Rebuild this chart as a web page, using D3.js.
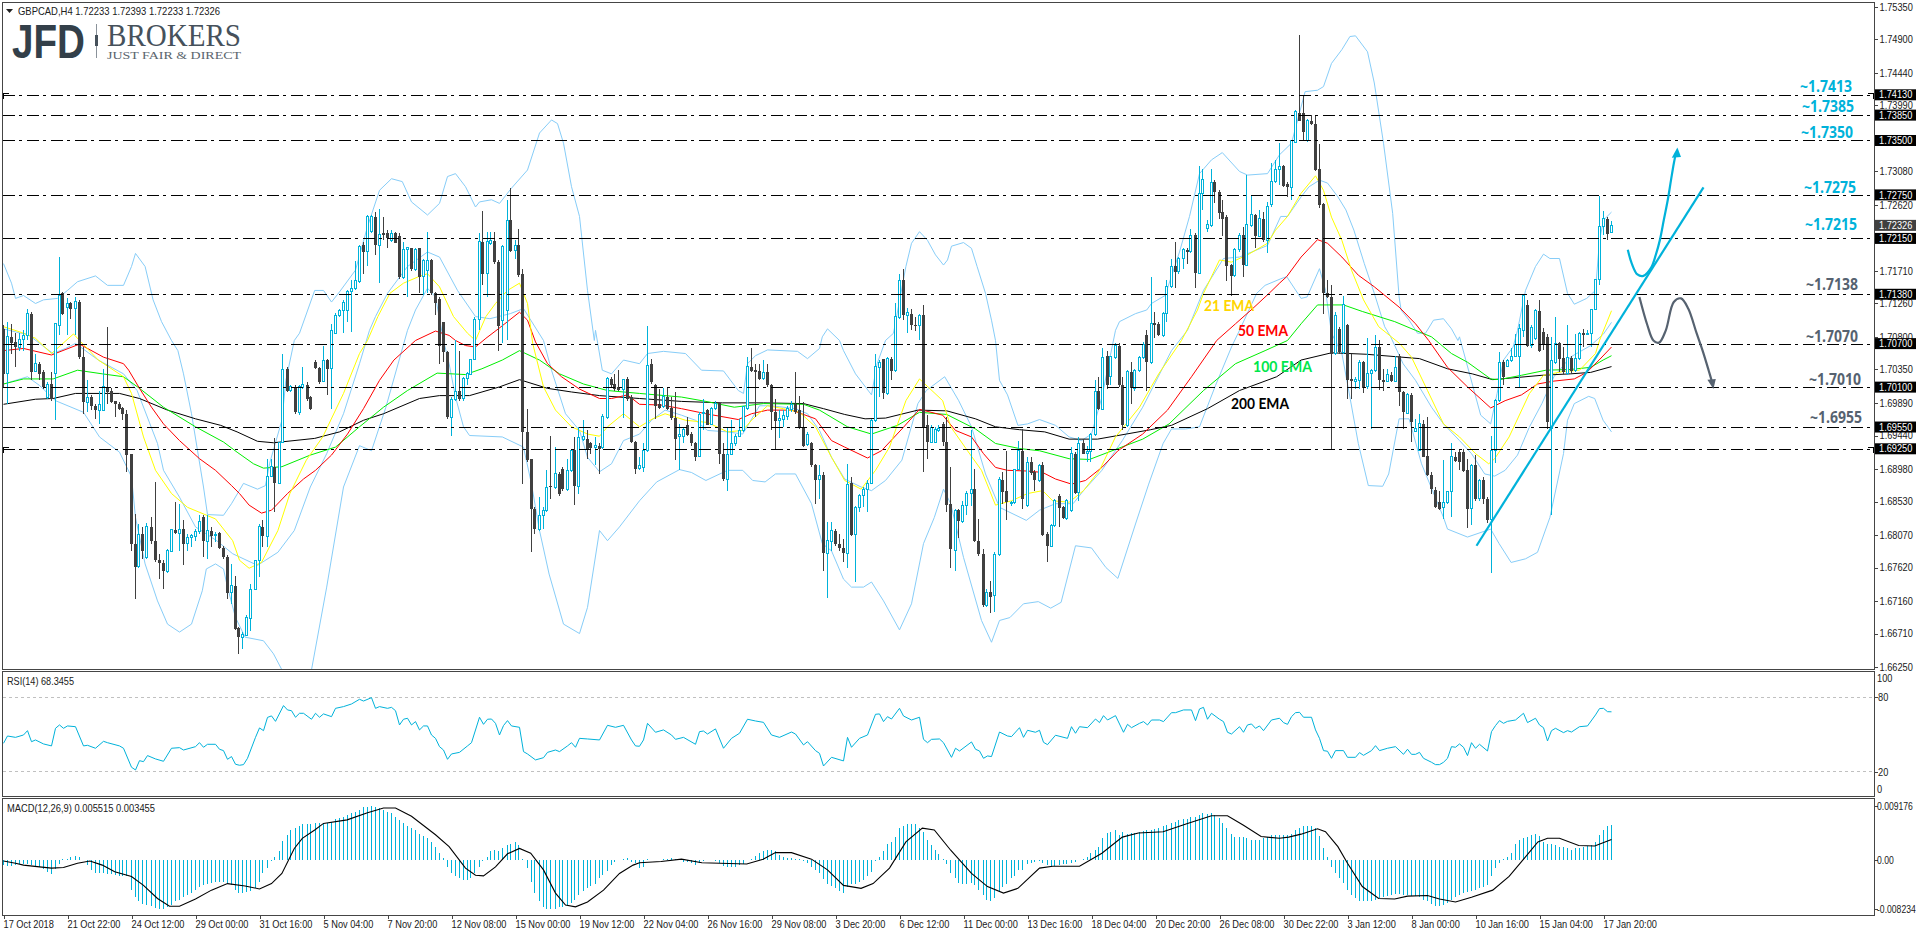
<!DOCTYPE html>
<html>
<head>
<meta charset="utf-8">
<script src="https://cdnjs.cloudflare.com/ajax/libs/d3/7.8.5/d3.min.js"></script>
<style>
html, body { margin: 0; padding: 0; background: #fff; overflow: hidden; }
svg { display: block; }
text { font-family: "Liberation Sans", sans-serif; }
</style>
</head>
<body>
<div id="chart"></div>
<script>
// prices are in 1/10000 units (17413 = 1.7413), one entry per H4 bar
const opens = [17091,17029,17080,17073,17066,17077,17082,17112,17032,17043,
17031,16997,17015,17029,17096,17140,17121,17126,17119,17128,
17052,16990,16997,16985,16979,16979,17011,17006,16991,16988,
16982,16974,16918,16795,16763,16808,16776,16818,16799,16773,
16768,16757,16784,16814,16809,16815,16795,16803,16805,16811,
16832,16798,16813,16806,16809,16789,16777,16727,16737,16678,
16666,16668,16692,16732,16772,16818,16805,16887,16901,16878,
16934,17035,17006,17011,16976,17010,17014,16997,17045,17037,
17019,17048,17036,17085,17110,17117,17117,17142,17147,17156,
17206,17197,17225,17245,17206,17223,17223,17213,17223,17219,
17162,17201,17202,17173,17202,17163,17172,17186,17140,17132,
17100,17059,16969,16993,17005,16995,17022,17028,17049,17104,
17211,17167,17209,17212,17183,17103,17116,17241,17199,17206,
17166,16949,16911,16843,16814,16834,16841,16874,16873,16891,
16898,16870,16896,16924,16874,16939,16939,16933,16927,16930,
16928,16969,17022,17015,17011,17007,17022,16997,16935,16898,
16900,16923,17043,17013,16988,16984,16997,16982,16968,16943,
16943,16958,16946,16933,16915,16974,16979,16959,16981,16989,
16919,16884,16918,16933,16943,16951,16981,17039,17034,17033,
17022,17031,17014,16976,16964,16966,16970,16980,16987,16979,
16956,16932,16934,16903,16883,16889,16782,16798,16813,16795,
16789,16781,16878,16807,16845,16861,16869,16878,16965,17038,
17049,17002,17050,17033,17106,17158,17110,17112,17096,17095,
17110,16959,16935,16935,16951,16960,16935,16849,16785,16841,
16826,16847,16864,16870,16798,16780,16710,16728,16723,16780,
16883,16867,16851,16852,16897,16923,16848,16908,16893,16882,
16903,16808,16791,16820,16861,16845,16830,16840,16919,16865,
16933,16919,16922,16945,17005,16980,17053,17025,17052,17068,
17013,16958,17032,17009,17033,17051,17082,17045,17099,17098,
17082,17112,17149,17177,17170,17188,17200,17197,17220,17168,
17278,17229,17233,17293,17279,17252,17245,17179,17164,17200,
17220,17179,17234,17248,17219,17243,17213,17262,17294,17311,
17316,17291,17286,17348,17388,17388,17350,17378,17373,17311,
17263,17141,17135,17057,17091,17059,17096,17022,17019,17020,
17045,17011,17029,17033,17066,17021,17019,17028,17019,17054,
17004,16975,17000,16950,16923,16960,16916,16890,16869,16852,
16845,16852,16867,16915,16921,16921,16896,16843,16903,16857,
16883,16857,16828,16924,16992,17045,17039,17047,17053,17053,
17089,17124,17068,17078,17116,17086,17080,16953,17045,17071,
17051,17029,17051,17034,17050,17085,17083,17084,17118,17159,
17232,17243,17224];
const closes = [17029,17080,17071,17066,17077,17082,17112,17032,17043,17029,
17011,17015,16995,17098,17137,17112,17126,17119,17129,17052,
16990,16997,16985,16979,16987,17011,17004,16990,16987,16981,
16974,16917,16795,16763,16807,16785,16818,16798,16772,16768,
16757,16785,16814,16809,16815,16795,16803,16806,16811,16826,
16798,16813,16806,16808,16789,16776,16727,16737,16677,16666,
16670,16693,16732,16772,16818,16805,16887,16901,16878,16934,
17035,17006,17011,16976,17011,17014,16995,16981,17037,17018,
17048,17036,17089,17110,17117,17128,17142,17147,17158,17204,
17197,17246,17246,17206,17221,17221,17216,17223,17210,17162,
17201,17203,17173,17201,17163,17185,17185,17140,17126,17068,
17059,16969,16993,17005,16995,17022,17029,17049,17104,17211,
17167,17211,17213,17183,17095,17204,17241,17199,17206,17165,
16949,16910,16843,16815,16834,16841,16873,16873,16891,16864,
16870,16896,16924,16874,16941,16942,16926,16927,16930,16926,
16970,17022,17013,17008,17007,17021,16995,16935,16898,16903,
16923,17041,17018,16984,16982,16998,16981,16968,16939,16945,
16952,16945,16933,16915,16973,16976,16959,16981,16988,16919,
16884,16918,16933,16943,16951,16984,17039,17033,17031,17022,
17031,17013,16976,16964,16967,16972,16981,16987,16977,16955,
16930,16945,16903,16883,16889,16782,16799,16813,16795,16789,
16782,16877,16807,16845,16861,16870,16878,16965,17039,17045,
17002,17050,17033,17108,17157,17110,17114,17096,17095,17110,
16956,16935,16955,16952,16953,16935,16848,16787,16841,16826,
16847,16864,16870,16798,16780,16710,16728,16722,16780,16884,
16866,16852,16852,16897,16923,16857,16907,16892,16882,16903,
16807,16791,16820,16854,16844,16830,16854,16919,16865,16933,
16919,16922,16945,17005,16980,17051,17013,17053,17068,17013,
16958,17032,17010,17034,17051,17070,17045,17098,17096,17082,
17112,17149,17177,17170,17188,17200,17197,17220,17168,17278,
17297,17235,17293,17279,17251,17243,17178,17164,17200,17220,
17179,17235,17248,17219,17243,17213,17260,17294,17311,17315,
17288,17286,17350,17391,17378,17363,17378,17373,17310,17262,
17140,17135,17057,17110,17059,17124,17020,17019,17021,17045,
17010,17029,17034,17066,17020,17018,17028,17019,17038,17004,
16976,17000,16963,16953,16960,16915,16889,16870,16845,16843,
16852,16867,16915,16909,16907,16895,16843,16903,16857,16882,
16856,16828,16924,16992,17045,17025,17048,17053,17070,17091,
17137,17068,17093,17116,17061,17070,16962,17047,17071,17050,
17031,17051,17033,17050,17084,17083,17084,17118,17159,17232,
17243,17222,17233];
const highs = [17096,17101,17098,17085,17085,17090,17119,17114,17057,17045,
17034,17018,17031,17098,17190,17142,17133,17128,17135,17131,
17066,17020,17000,16988,17006,17036,17094,17009,16992,16990,
16983,16979,16919,16836,16822,16818,16824,16831,16880,16781,
16772,16788,16815,16852,16850,16827,16808,16808,16815,16834,
16834,16834,16818,16811,16811,16792,16779,16767,16751,16680,
16673,16696,16739,16772,16822,16827,16912,16912,16940,16935,
17057,17038,17013,17013,17013,17038,17018,16998,17048,17038,
17068,17050,17098,17113,17119,17131,17144,17158,17184,17207,
17211,17248,17248,17252,17256,17245,17227,17227,17225,17223,
17211,17204,17203,17202,17203,17188,17224,17188,17142,17135,
17098,17061,16997,17075,17061,17025,17031,17050,17108,17223,
17254,17225,17225,17225,17186,17207,17269,17285,17213,17228,
17174,16980,16912,16845,16859,16845,16896,16944,16928,16893,
16900,16912,16926,16942,16956,16966,16951,16935,16942,16933,
16974,17025,17025,17029,17034,17022,17025,17000,16937,16914,
16933,17095,17050,17015,17008,17010,17010,16997,17004,16960,
16956,16969,16949,16935,16976,16995,16981,16983,16992,16990,
16933,16956,16965,16946,16967,16985,17052,17064,17043,17043,
17048,17043,17015,16995,16979,16979,16985,16992,17031,16999,
16990,16949,16935,16905,16903,16893,16825,16825,16815,16808,
16801,16905,16887,16847,16864,16873,16882,16967,17057,17048,
17050,17052,17052,17126,17167,17174,17120,17119,17108,17112,
17124,16972,16958,16956,16958,16962,16969,16901,16843,16843,
16854,16868,16951,16898,16829,16788,16732,16744,16783,16887,
16893,16923,16854,16898,16937,16953,16915,16915,16896,16905,
16907,16811,16822,16857,16864,16847,16857,16928,16921,16942,
16939,16930,16947,17021,17025,17064,17061,17054,17071,17071,
17025,17034,17045,17036,17054,17073,17089,17163,17114,17101,
17114,17158,17188,17211,17190,17202,17203,17228,17223,17315,
17312,17241,17312,17296,17282,17269,17248,17181,17202,17223,
17232,17303,17275,17250,17255,17252,17266,17319,17324,17347,
17317,17293,17351,17393,17496,17413,17381,17386,17386,17346,
17264,17159,17151,17114,17094,17137,17098,17057,17025,17048,
17047,17078,17036,17082,17075,17036,17036,17031,17054,17057,
17006,17002,17002,16967,16974,16965,16970,16893,16873,16868,
16910,16868,16933,16921,16926,16926,16912,16905,16917,16884,
16887,16859,16943,16995,17059,17048,17050,17064,17084,17098,
17137,17131,17096,17119,17131,17092,17084,17080,17108,17073,
17066,17096,17054,17084,17086,17091,17089,17119,17160,17274,
17254,17245,17240];
const lows = [17011,16988,17057,17038,17061,17061,17075,17020,17032,17020,
17008,16995,16992,16965,17082,17110,17082,17105,17082,17050,
16974,16976,16979,16967,16960,16979,16988,16989,16969,16979,
16965,16893,16785,16719,16762,16774,16774,16795,16769,16746,
16732,16755,16783,16808,16785,16765,16785,16790,16799,16808,
16776,16774,16790,16797,16788,16774,16719,16712,16676,16643,
16650,16668,16675,16731,16749,16790,16790,16887,16838,16877,
16933,17004,17004,16974,16972,17008,16992,16979,17036,17015,
17018,17000,16981,17085,17108,17085,17101,17087,17144,17154,
17167,17177,17223,17193,17154,17213,17202,17211,17209,17160,
17160,17135,17171,17171,17140,17138,17140,17138,17110,17043,
17045,16967,16944,16992,16992,16992,17013,17027,17048,17089,
17151,17135,17206,17181,17061,17071,17075,17197,17188,17163,
16877,16907,16783,16808,16813,16815,16838,16857,16870,16861,
16868,16868,16893,16848,16864,16937,16912,16919,16903,16891,
16926,16967,17011,17006,17006,16968,16992,16933,16891,16896,
16893,16921,17015,16967,16981,16982,16979,16966,16910,16897,
16933,16944,16930,16909,16914,16951,16958,16958,16979,16905,
16881,16867,16917,16930,16942,16949,16979,17031,16969,17020,
17020,17011,16951,16926,16941,16956,16965,16976,16974,16953,
16928,16930,16900,16850,16857,16757,16720,16785,16792,16785,
16769,16761,16806,16742,16838,16845,16838,16877,16963,16997,
16995,17000,17020,17031,17105,17103,17085,17089,17088,17075,
16893,16912,16933,16933,16949,16930,16838,16762,16757,16803,
16824,16834,16847,16797,16778,16707,16707,16699,16700,16778,
16850,16827,16847,16850,16896,16843,16845,16889,16868,16880,
16806,16769,16790,16818,16818,16829,16827,16838,16864,16854,
16918,16907,16907,16944,16979,16979,17008,17013,17050,17011,
16951,16956,16988,17006,17031,17050,17006,17043,17079,17081,
17080,17101,17147,17147,17167,17174,17181,17195,17147,17167,
17255,17225,17232,17264,17243,17219,17157,17137,17162,17197,
17162,17177,17232,17202,17217,17211,17195,17259,17292,17289,
17286,17273,17269,17347,17377,17352,17349,17372,17309,17258,
17112,17133,16924,17055,17057,17057,16995,16995,17008,17008,
17002,17008,16953,17031,17007,17006,17018,17018,17018,16984,
16953,16974,16935,16949,16922,16914,16888,16864,16844,16841,
16829,16850,16831,16907,16896,16893,16817,16820,16854,16854,
16850,16823,16755,16906,16990,17013,17038,17045,17052,17011,
17080,17066,17064,17075,17059,17062,16953,16834,17043,17031,
17029,17027,17029,17031,17048,17066,17082,17066,17117,17151,
17220,17214,17223];

// indicator lines: [bar, value] pairs
const bbUpper = [[0,17181],[2,17154],[3,17133],[5,17137],[8,17126],[10,17131],[13.5,17133],[16,17144],[18.5,17156],[23,17164],[26,17151],[30,17151],[32,17177],[33,17195],[35.4,17177],[37.4,17131],[39.5,17101],[42,17075],[43.6,17061],[45,17029],[47,16974],[50,16873],[51,16835],[55,16834],[57,16850],[60,16878],[63.5,16870],[65.5,16875],[66.5,16905],[69.6,16965],[70.6,17020],[72.7,17075],[74,17085],[77.8,17144],[80,17144],[82,17128],[84,17142],[88,17172],[91,17232],[94,17282],[97,17298],[99.7,17294],[102,17266],[106,17248],[109,17264],[111,17301],[113,17305],[115.5,17287],[118,17259],[119,17266],[122,17269],[124,17264],[127,17285],[131,17310],[134,17361],[137,17379],[138.5,17374],[140,17347],[142,17287],[144,17246],[146,17144],[147.7,17075],[148,17089],[149.7,17034],[152,17029],[155,17048],[159,17043],[161,17057],[165,17060],[170.5,17057],[174.5,17034],[180,17033],[183.7,17006],[185,17002],[186,17043],[188,17054],[191,17062],[198.5,17060],[201,17050],[204,17064],[204.7,17080],[206,17091],[209,17075],[210,17061],[213,17029],[217,17000],[218.4,17043],[220.5,17075],[222.5,17085],[225.6,17177],[227,17209],[229,17225],[231,17213],[233,17193],[235,17179],[236,17186],[237,17205],[240,17210],[242,17202],[243.4,17177],[245.5,17140],[247,17103],[248,17075],[249,17020],[251,17000],[253.6,16958],[256,16960],[259,16966],[263,16958],[266.4,16942],[269.5,16937],[272,16946],[274.6,16997],[278,17089],[279,17101],[283,17112],[285.8,17117],[287,17126],[290.4,17137],[294,17197],[296.5,17246],[299,17305],[302,17324],[304.7,17334],[309,17308],[311,17303],[316,17305],[319,17331],[322,17347],[325.4,17418],[328.5,17420],[330,17425],[332,17457],[334.6,17476],[336.6,17494],[338,17495],[341,17473],[342.7,17430],[345,17347],[347.3,17250],[348.9,17135],[349.4,17117],[351.4,17103],[353.5,17085],[355.5,17085],[357.5,17103],[360,17105],[362,17091],[363.6,17075],[364,17080],[366.7,17025],[369.3,16972],[371.8,16960],[373.4,17002],[375,17048],[377.4,17066],[378.5,17089],[380.5,17144],[383,17177],[385,17194],[386.6,17188],[389,17188],[391,17140],[392.7,17125],[395.8,17133],[398,17144],[399,17213],[400,17241],[402,17252]];
const bbLower = [[0,17015],[3,17020],[6,17025],[9,17013],[13,16992],[20,16976],[24,16942],[29,16921],[32,16887],[33,16831],[35.4,16767],[38.5,16716],[41,16684],[44,16673],[47,16684],[49.7,16730],[50.7,16760],[53,16767],[55,16760],[56,16735],[58,16693],[60.4,16666],[65,16661],[67.5,16643],[69.6,16621],[71,16605],[76,16600],[77,16621],[80.8,16735],[85,16873],[89,16930],[92,16923],[95.6,16983],[101,17089],[103,17117],[106,17147],[108,17135],[110,17075],[111.4,17043],[113,16997],[115,16956],[116.5,16944],[124.7,16942],[130,16928],[132,16877],[134,16813],[136.4,16753],[140,16684],[144,16671],[146,16707],[149,16813],[151,16799],[154,16818],[159,16854],[163.3,16880],[169,16897],[172,16893],[175.6,16882],[181,16896],[184.8,16896],[187.3,16882],[190.4,16880],[193,16891],[198,16891],[202,16850],[204.7,16795],[207,16785],[210,16746],[212,16735],[215,16735],[217,16742],[220,16716],[224,16676],[227,16712],[230,16795],[232.7,16831],[235,16870],[236.8,16850],[240,16776],[244.5,16689],[247,16659],[249,16689],[251.6,16693],[255,16712],[258.7,16715],[261.8,16706],[264.4,16714],[268,16792],[272,16789],[275.6,16762],[278.6,16747],[283,16822],[286.3,16877],[289.9,16933],[292,16953],[295.5,16953],[299,16956],[303,17013],[307,17066],[309,17089],[313.3,17140],[315.4,17151],[319.3,17160],[320.8,17163],[324.4,17133],[325.9,17135],[329,17174],[330.5,17144],[332,17085],[334.6,17057],[336.6,16997],[338.7,16933],[341.2,16875],[344.8,16874],[346.3,16891],[348.9,16967],[351.4,16967],[354.5,16905],[360,16831],[361,16815],[366,16804],[371.8,16815],[373.9,16795],[376.9,16769],[380.5,16774],[383.5,16783],[386.6,16831],[390,16919],[391,16965],[392.7,16988],[396.3,16998],[397.8,16995],[399.9,16965],[402,16949]];
const bbMiddle = [[0,17091],[4.3,17085],[6,17084],[9,17071],[12.4,17057],[15.5,17064],[18,17071],[23.7,17048],[30,17029],[33.4,17006],[38.5,16933],[40,16896],[44,16859],[48,16818],[53.3,16799],[57.3,16781],[63.5,16765],[68.6,16783],[72.7,16813],[76.7,16873],[80.8,16919],[85,16974],[89,17043],[91.5,17089],[93,17108],[96,17140],[101,17177],[106,17197],[109,17190],[113.5,17144],[118,17108],[121.6,17105],[126.7,17112],[130,17119],[135,17075],[137,17034],[140.5,16974],[144,16951],[146,16914],[149,16894],[152,16905],[155,16937],[159,16946],[162,16965],[165.4,16979],[169.5,16972],[173,16965],[176,16951],[181,16949],[184.8,16946],[189,16985],[192,16985],[198,16981],[201,16974],[204,16951],[207,16914],[210.3,16884],[214.4,16873],[217,16868],[220.5,16882],[224.6,16910],[228.6,16988],[230.7,17006],[235.3,17025],[238.8,16992],[242,16956],[245.5,16891],[249,16845],[255.7,16827],[259,16841],[263,16850],[267.4,16850],[270,16868],[274.6,16896],[279.7,16937],[284.8,16983],[292,17061],[296,17089],[300,17144],[305,17188],[309,17190],[316,17206],[319.3,17246],[321,17246],[324.4,17273],[326.4,17287],[329,17296],[331,17292],[333.6,17273],[335.6,17255],[337.6,17227],[340.2,17181],[342.7,17140],[345.3,17094],[346.8,17080],[349.9,17043],[353,17020],[357,16983],[360,16960],[364,16937],[367,16919],[370.3,16891],[372.8,16888],[375.4,16896],[378.5,16917],[381.5,16956],[384.6,16988],[387.6,17025],[391.7,17052],[396.8,17068],[400,17084],[402,17100]];
const ema21 = [[0,17094],[4,17087],[8,17078],[12,17057],[17.5,17084],[19,17075],[23.7,17048],[30,17025],[32,17002],[35,16942],[38,16896],[42,16864],[46,16845],[53,16829],[57.3,16799],[59,16772],[61.4,16761],[64.5,16769],[68.6,16813],[71.6,16864],[75.7,16910],[79.8,16942],[85,17002],[89,17057],[91,17075],[93.6,17108],[96.6,17140],[100,17154],[103.8,17163],[106,17167],[109,17149],[112.5,17108],[116,17085],[118,17075],[120.6,17108],[123,17126],[126,17144],[129,17154],[130,17140],[131,17126],[132.3,17071],[135,17011],[138,16979],[142,16956],[146,16946],[149,16943],[151,16956],[155,16974],[159,16956],[162.3,16967],[165.4,16974],[170.5,16965],[176,16962],[181,16949],[184.8,16951],[187,16965],[191,16985],[195,16981],[199,16976],[203,16956],[207,16914],[210.3,16882],[214.4,16870],[218,16896],[221.5,16928],[225.6,16992],[229,17022],[234.8,16992],[236.8,16956],[241,16923],[244.5,16896],[248,16848],[252,16854],[256,16864],[259.8,16868],[262.3,16854],[266.4,16852],[270,16868],[274,16896],[278,16942],[284,16983],[288.8,17029],[294.5,17075],[298.5,17117],[300,17140],[304,17186],[307,17183],[311,17193],[316,17209],[318,17227],[321,17246],[324.4,17278],[328,17302],[330,17282],[332,17245],[334.6,17213],[337,17172],[340,17131],[343.8,17094],[349,17071],[352,17052],[356,17006],[360,16960],[364,16942],[368,16919],[371.3,16905],[372.8,16912],[376.4,16942],[381.5,17002],[385,17027],[389.7,17032],[394,17034],[398,17057],[399,17075],[402,17116]];
const ema50 = [[0,17061],[5,17064],[12,17055],[19,17070],[25,17052],[30,17043],[31.3,17034],[34,17009],[37,16983],[40,16960],[44,16937],[49,16912],[53,16896],[57,16875],[59,16864],[61.4,16848],[64.5,16837],[67,16841],[71,16864],[75,16884],[78,16896],[82,16917],[86,16946],[90,16981],[94,17020],[97.6,17048],[103,17075],[108,17088],[111.4,17082],[113,17075],[115.5,17068],[118,17066],[120.6,17078],[123.7,17091],[129,17114],[131,17103],[133,17073],[136,17043],[139.5,17025],[144,17008],[149,16995],[152,16995],[156,17000],[159,16987],[164.4,16986],[169.5,16981],[175.6,16974],[183.7,16966],[187,16974],[191,16979],[197,16979],[203,16967],[207,16937],[210.3,16928],[216,16913],[219.5,16923],[224.6,16953],[229,16980],[234.8,16972],[238,16951],[242,16942],[245,16919],[248,16900],[251,16896],[256,16895],[259.8,16893],[263,16884],[267,16877],[270.5,16882],[274.6,16900],[278.6,16923],[284.8,16946],[291,16979],[297,17025],[303.3,17075],[308,17098],[312.3,17119],[316.4,17140],[319,17154],[320.8,17163],[324.4,17190],[328.5,17214],[331,17209],[334.6,17190],[338.7,17165],[342.7,17149],[348.9,17121],[353,17098],[356.3,17075],[361,17038],[366,17011],[371.8,16982],[375.4,16992],[379.5,17000],[383.5,17015],[387.6,17019],[392.7,17022],[395.8,17031],[398.9,17048],[402,17066]];
const ema100 = [[0,17015],[5,17022],[12.4,17022],[18.5,17034],[24.7,17029],[30,17025],[34,17009],[40,16983],[48,16956],[55,16935],[58.4,16921],[62.5,16905],[65,16899],[69.6,16901],[76.7,16917],[83,16928],[89,16956],[95,16983],[101,17006],[108.4,17030],[115.5,17028],[119.6,17036],[124.7,17048],[129,17061],[134,17048],[139,17029],[145,17015],[151,17006],[159,17002],[169.5,16997],[175.6,16991],[182.7,16983],[190,16988],[200,16987],[204,16979],[211,16956],[217,16946],[223.5,16958],[229,16976],[235.8,16973],[243,16953],[248,16933],[254,16926],[259,16923],[266.4,16912],[271.5,16911],[278.6,16926],[284.8,16939],[291.4,16960],[300,17006],[308,17043],[315.4,17061],[321,17075],[324.4,17098],[328.5,17124],[335,17124],[339.7,17115],[347.8,17101],[353,17089],[357,17080],[362,17057],[366,17045],[371.8,17022],[373.9,17021],[379.5,17027],[385.6,17034],[391.7,17035],[396.8,17038],[399.9,17048],[402,17054]];
const ema200 = [[0,16987],[8,16994],[12.4,16995],[18,17002],[29,17002],[34,16995],[41,16979],[48,16967],[54.3,16958],[58.4,16949],[63.5,16936],[67.5,16934],[77.8,16940],[84,16949],[90,16965],[95,16974],[104,16995],[109,16999],[116.5,16999],[124,17011],[129,17021],[136,17009],[142,17004],[149,16999],[159,16995],[169.5,16991],[179.7,16989],[190,16989],[200,16988],[205,16981],[210.3,16973],[215.4,16967],[220.5,16968],[228.6,16979],[235.8,16978],[243,16967],[248,16956],[254,16952],[260.3,16949],[266.4,16939],[273.5,16939],[280.7,16946],[286.8,16952],[292,16958],[301,16981],[309,17006],[318.3,17025],[324.4,17048],[332,17058],[340.7,17056],[354,17050],[361,17036],[367.2,17029],[372.3,17021],[376.4,17023],[384.6,17027],[391.7,17029],[396.8,17031],[402,17039]];

const rsiPoints = [[0,42.9],[1,48.8],[3,47.7],[5,49.6],[6,53.1],[7,44.2],[8,45.6],[10,42.4],[12,40.8],[13,55],[14,57.7],[15,55],[16,56.9],[18,56.3],[20,40.8],[21,41.3],[23,38.9],[25,44.5],[26,43.4],[29,40.8],[30,38.9],[32,23.6],[33,21.4],[34,28.9],[35,28.1],[36,33],[38,30.3],[40,28.4],[42,38.9],[44,39.4],[45,37.5],[48,40.2],[49,43.4],[50,39.7],[51,42.1],[53,42.1],[54,38.1],[55,37],[56,30],[57,32.2],[58,26],[59,25.2],[60,25.7],[61,30.8],[63,47.7],[64,55.3],[65,53.1],[66,63.8],[67,65],[68,60.6],[70,73.3],[71,69.8],[72,69.2],[73,63.9],[74,67.1],[75,67.1],[77,62.3],[78,67.1],[79,63.9],[80,66.6],[82,64.4],[83,71.1],[85,72.5],[87,74.6],[89,78.4],[90,77],[92,79.7],[93,71.1],[94,72.5],[96,71.1],[97,71.9],[98,69.2],[99,57.7],[100,62.3],[101,63.1],[102,57.7],[103,60.4],[104,53.7],[105,56.9],[106,56.9],[107,49.6],[108,46.9],[109,40.2],[110,37.5],[111,30],[112,34.3],[114,35.6],[116,40.8],[117,43.4],[119,63.9],[120,58.2],[121,62.3],[122,62.5],[123,59],[124,49.6],[125,57.2],[126,61.2],[127,56.9],[129,55.8],[130,36.2],[131,34.3],[133,29.5],[135,31.3],[136,35.6],[138,37.5],[139,36.2],[141,40.8],[142,43.4],[143,39.7],[144,46.9],[146,46.4],[149,45.6],[151,57.4],[153,55.8],[155,57.4],[157,45.6],[158,40.8],[159,40.5],[160,45.6],[161,59],[163,51.8],[165,53.7],[167,49.6],[168,46.1],[170,47.7],[173,42.1],[174,52.3],[175,52.8],[176,50.4],[178,54.5],[180,38.9],[182,46.9],[184,51],[186,62.3],[188,60.9],[190,59.8],[192,49.6],[194,47.7],[197,52],[198,50.4],[200,41.6],[201,44.2],[203,37],[204,34.8],[205,24.6],[207,31.6],[210,28.7],[211,47.7],[212,39.7],[214,46.9],[216,49.6],[218,66.3],[219,66.6],[220,60.4],[221,64.4],[222,62.5],[224,71.1],[225,64.9],[227,61.7],[229,63.9],[230,46.1],[231,43.4],[232,46.1],[234,46.4],[235,43.4],[237,31.6],[238,38.9],[239,36.7],[242,44],[243,38.1],[244,36.7],[245,30.8],[246,32.7],[247,32.2],[249,52],[251,48.8],[252,48.3],[254,55.5],[255,47.7],[256,53.4],[258,51.8],[259,53.4],[260,43.7],[261,41.8],[263,49.4],[266,46.9],[267,56.3],[268,51],[269,56.3],[271,55.5],[273,62.5],[274,59.6],[275,65.2],[276,61.7],[278,65.2],[280,51.8],[281,58.2],[282,55.5],[284,59],[285,60.4],[286,57.7],[287,61.7],[289,61.7],[290,60.4],[292,67.6],[293,67.6],[295,69.8],[297,69.8],[298,61.2],[299,70.6],[300,71.9],[301,62.3],[302,67.1],[304,62.3],[305,60.4],[306,51.8],[307,50.4],[309,56.3],[310,51.8],[311,57.7],[312,58.5],[313,55],[314,56.9],[315,53.1],[317,61.7],[319,63.1],[320,59.6],[321,58.2],[322,64.4],[323,67.6],[324,67.9],[325,63.9],[327,63.9],[328,53.7],[329,46.9],[330,37],[331,36.5],[332,30.8],[333,37],[335,37],[336,31.6],[338,31.6],[339,35.4],[340,33.2],[342,37],[343,41],[344,37],[346,38.9],[348,40.2],[350,34],[351,38.1],[352,34],[353,34],[354,35.6],[355,30.8],[357,27.6],[358,25.7],[359,25.7],[360,27.6],[361,30.8],[362,40.2],[363,39.7],[364,42.4],[365,39.7],[366,33],[367,43.4],[368,38.9],[369,42.1],[371,36.7],[372,52.3],[373,57.2],[374,61.2],[375,59],[376,60.6],[378,61.7],[380,67.1],[381,59.6],[383,63.1],[384,57.7],[385,55.5],[386,44.8],[387,53.1],[388,55],[390,51.5],[391,53.1],[392,52],[394,56.3],[396,56.9],[398,65.8],[399,70.9],[400,71.1],[401,68.4],[402,68.3]];

// MACD values are in 1/1000 units, one histogram value per bar
const macdHist = [-0.8,-0.9,-1.0,-0.8,-0.6,-0.6,-0.6,-0.7,-0.9,-1.1,-1.5,-1.9,-2.3,-1.5,-0.6,0.2,0.2,0.5,0.7,0.5,
0.1,-0.8,-1.6,-2.1,-2.2,-2.2,-2.3,-2.3,-2.5,-2.6,-2.7,-2.7,-4.9,-6.1,-6.9,-7.4,-7.5,-7.7,-8.0,-8.1,
-8.1,-7.8,-7.5,-6.9,-6.6,-6.2,-5.8,-5.5,-5.0,-4.5,-4.1,-4.0,-3.8,-3.6,-3.6,-3.6,-3.8,-4.1,-5.0,-5.4,
-5.5,-5.3,-5.1,-4.7,-3.6,-2.2,-1.3,-0.1,0.5,1.6,3.2,4.3,5.1,5.4,5.8,6.1,6.1,6.1,6.2,6.2,
6.3,6.3,6.4,6.9,7.1,7.3,7.6,7.9,8.2,8.5,8.9,9.0,9.1,9.0,8.8,8.5,8.2,7.9,7.3,6.7,
6.2,5.8,5.4,5.1,4.5,4.1,3.8,3.1,2.3,1.3,0.4,-1.1,-2.2,-2.7,-3.0,-3.3,-3.3,-3.0,-2.2,-1.1,
-0.1,0.6,1.5,1.7,1.6,2.0,2.6,2.7,3.0,2.6,0.3,-1.3,-3.6,-5.5,-6.8,-7.8,-8.1,-8.2,-8.1,-7.9,
-7.8,-7.5,-7.1,-6.6,-5.8,-5.1,-4.6,-4.3,-3.9,-3.0,-2.5,-1.8,-0.8,-0.3,0.1,0.3,0.4,-0.2,-0.5,-1.2,
-1.1,0.2,0.1,0.1,0.1,0.2,0.3,0.4,0.3,0,-0.2,-0.3,-0.5,-0.8,-0.4,-0.1,0.1,0,-0.1,-0.4,
-0.9,-1.1,-1.1,-1.1,-0.8,-0.6,0.1,0.3,0.7,1.2,1.6,1.7,1.7,1.5,0.9,0.6,0.4,0.4,0.3,0.2,
-0.1,-0.5,-1.1,-1.6,-2.2,-3.1,-3.9,-4.3,-4.7,-5.1,-5.4,-4.4,-4.0,-4.0,-3.6,-3.3,-2.7,-1.9,-0.1,0.6,
1.6,2.7,3.1,4.0,5.4,5.8,6.1,6.1,6.1,5.4,4.8,3.4,2.5,1.7,1.1,0.3,-0.6,-2.2,-3.0,-3.8,
-3.9,-3.9,-3.8,-4.1,-5.0,-5.8,-6.6,-6.8,-6.4,-5.3,-4.4,-4.0,-3.0,-2.6,-1.6,-1.6,-0.6,-0.5,-0.2,-0.1,
-0.5,-0.8,-1.0,-1.0,-0.8,-0.6,-0.6,-0.4,-0.3,0.1,0.2,0.6,1.3,1.7,2.3,3.8,4.6,4.8,5.1,4.3,
4.8,4.5,4.6,4.6,4.8,5.0,5.1,5.1,5.2,5.4,5.7,5.9,6.2,6.5,6.8,6.9,6.9,7.3,7.3,7.6,
7.9,7.8,7.9,7.6,7.1,6.2,5.4,4.5,4.0,3.9,3.9,3.7,3.5,3.4,3.4,3.7,4.0,4.3,4.3,4.3,
4.3,4.3,4.4,5.1,5.5,5.7,5.8,5.7,5.4,4.1,2.0,0.6,-1.1,-2.2,-3.0,-3.8,-5.0,-5.8,-6.4,-6.8,
-6.9,-6.9,-6.8,-6.6,-6.4,-6.2,-6.0,-5.8,-5.7,-5.7,-5.8,-5.8,-6.0,-6.0,-6.2,-6.6,-6.9,-7.3,-7.6,-7.7,
-7.5,-7.1,-6.7,-6.2,-5.8,-5.5,-5.3,-5.1,-4.9,-4.7,-4.4,-4.1,-2.7,-1.3,-0.5,0.2,0.5,1.3,2.7,3.5,
3.7,4.0,4.3,4.4,4.1,3.0,2.7,2.7,2.6,2.3,2.2,2.0,1.8,2.0,2.1,2.3,2.4,2.6,3.1,4.3,
5.1,5.7,5.9];
const macdSignal = [[0,-0.1],[3,-0.5],[5,-0.8],[9,-1.1],[12,-1.3],[15,-1.2],[18.5,-0.5],[21.6,-0.1],[24.7,-0.8],[27.8,-1.9],[32,-2.7],[35,-4.2],[38.5,-6.4],[41.5,-7.7],[44,-7.7],[48,-6.5],[52,-5],[56,-3.9],[60.4,-4.3],[64,-4.8],[67,-3.9],[69.6,-2.2],[72.7,2],[74.7,3.7],[77.8,5.1],[80,6.2],[85.9,6.8],[91,8],[95,8.8],[98,8.8],[102,7.4],[108,4.3],[111.4,2.3],[115.5,-1.3],[118,-2.5],[120,-2.6],[123,-1.1],[126,1.1],[129,2],[131.8,1.2],[135,-1.6],[138,-5.5],[140.5,-7.5],[143,-7.8],[146,-7],[150,-5],[154,-2.2],[157.4,-0.8],[159,-0.4],[164.4,-0.2],[169.5,0.2],[174.6,-0.4],[185.8,-0.6],[189.9,0.2],[193,1.3],[197,1.3],[202,0.2],[206,-1.6],[210,-4.2],[214.4,-4.7],[217.4,-3.9],[221.5,-1.3],[225.6,3.1],[229.7,5.4],[232.7,5.1],[236.8,1.7],[242,-2.2],[246,-4.4],[250,-5.5],[253.6,-4.7],[259,-1.3],[262.3,-1],[269,-1],[274.6,1.2],[279.7,3.9],[283.7,4.6],[289.9,4.8],[296,6.2],[302,7.5],[306,7.5],[310,5.9],[314.4,4],[319,3.7],[321.3,3.9],[324.4,4.4],[328.5,5.3],[330.5,4.8],[333.6,2.3],[336,-0.5],[339.7,-4.4],[343.8,-6.4],[347.8,-6.5],[351,-6],[356,-5.9],[359,-6.5],[363,-7],[367,-6.2],[372.3,-5],[376.4,-2.7],[380.5,0.6],[383.6,3.1],[386,3.7],[389,3.7],[393.8,2.5],[397.8,2.4],[402,3.5]];

const priceTicks = [17535,17490,17444,17399,17353,17308,17262,17217,17171,17126,17080,17035,16989,16944,16898,16853,16807,16762,16716,16671,16625];
const levels = [17413,17385,17350,17275,17215,17138,17070,17010,16955,16925];
const lastPrice = 17233;
const timeLabels = ["17 Oct 2018","21 Oct 22:00","24 Oct 12:00","29 Oct 00:00","31 Oct 16:00","5 Nov 04:00","7 Nov 20:00","12 Nov 08:00","15 Nov 00:00","19 Nov 12:00","22 Nov 04:00","26 Nov 16:00","29 Nov 08:00","3 Dec 20:00","6 Dec 12:00","11 Dec 00:00","13 Dec 16:00","18 Dec 04:00","20 Dec 20:00","26 Dec 08:00","30 Dec 22:00","3 Jan 12:00","8 Jan 00:00","10 Jan 16:00","15 Jan 04:00","17 Jan 20:00"];

// hand drawn analysis lines, [bar, price]
const trendLine = [[368.25,16792],[425,17286]];
const upCurve = [[406.2,17200],[407.2,17181],[408.6,17166],[410.1,17164],[412,17175],[413.2,17193],[414.2,17213],[415.2,17241],[416.2,17269],[417,17296],[417.7,17319],[418.3,17335]];
const upHead = [[418.6,17341],[417.2,17327],[419.5,17328]];
const downCurve = [[409.1,17135],[411.1,17096],[412.6,17075],[414,17072],[415.7,17089],[417.7,17128],[419.5,17133],[421.3,17119],[423.4,17085],[424.9,17061],[426.4,17034],[427.4,17015]];
const downHead = [[427.6,17008],[426.1,17021],[428.2,17022]];

const cyan = "#00b2da", bearColor = "#404040", bandColor = "#87cdf8", frameColor = "#454545", greyBlue = "#566270", labelColor = "#202020";
const width = 1916, height = 936;
const right = 1874;

const svg = d3.select("#chart").append("svg").attr("width", width).attr("height", height);

const xBar = d3.scaleLinear().domain([0, 467.75]).range([3, right]);
const yPrice = d3.scaleLinear().domain([16625, 17535]).range([666.9, 6.8]);
const yRsi = d3.scaleLinear().domain([0, 100]).range([796.5, 672.5]);
const yMacd = d3.scaleLinear().domain([-8.234, 9.176]).range([909.4, 805.7]);

const defs = svg.append("defs");
function addClip(id, y0, y1) {
    defs.append("clipPath").attr("id", id).append("rect")
        .attr("x", 3).attr("y", y0).attr("width", right - 3).attr("height", y1 - y0);
}
addClip("clipMain", 3, 669);
addClip("clipRsi", 672, 796);
addClip("clipMacd", 799, 915);

const pad = d => Math.floor(d) + 0.5;

// squeeze text a bit, the original screenshot is narrower than these fonts
function squeeze(sel, k) {
    sel.each(function () {
        this.setAttribute("textLength", this.getComputedTextLength() * k);
        this.setAttribute("lengthAdjust", "spacingAndGlyphs");
    });
}
function fitWidth(sel, w) {
    sel.attr("textLength", w).attr("lengthAdjust", "spacingAndGlyphs");
}

const main = svg.append("g").attr("clip-path", "url(#clipMain)");

// indicator lines under the candles
const priceLine = d3.line().x(d => xBar(d[0]) + 0.5).y(d => yPrice(d[1]));
[[bbUpper, bandColor], [bbLower, bandColor], [bbMiddle, bandColor], [ema200, "#000000"], [ema100, "#00ee00"], [ema50, "#ff0000"], [ema21, "#ffff00"]]
    .forEach(s => {
        main.append("path").attr("d", priceLine(s[0])).attr("fill", "none").attr("stroke", s[1]).attr("stroke-width", 1);
    });

// candles
const candle = main.append("g").selectAll("g").data(d3.range(opens.length)).join("g");
candle.append("line")
    .attr("x1", i => pad(xBar(i))).attr("x2", i => pad(xBar(i)))
    .attr("y1", i => yPrice(highs[i])).attr("y2", i => yPrice(lows[i]))
    .attr("stroke", i => closes[i] >= opens[i] ? cyan : bearColor)
    .attr("stroke-width", 1).attr("shape-rendering", "crispEdges");
candle.append("rect")
    .attr("x", i => closes[i] >= opens[i] ? Math.floor(xBar(i)) - 0.5 : Math.floor(xBar(i)) - 1)
    .attr("width", i => closes[i] >= opens[i] ? 2 : 3)
    .attr("y", i => yPrice(Math.max(opens[i], closes[i])))
    .attr("height", i => Math.max(1, Math.abs(yPrice(opens[i]) - yPrice(closes[i]))))
    .attr("fill", i => closes[i] >= opens[i] ? "#ffffff" : bearColor)
    .attr("stroke", i => closes[i] >= opens[i] ? cyan : "none")
    .attr("shape-rendering", "crispEdges");

// horizontal levels
main.append("g").selectAll("line").data(levels).join("line")
    .attr("x1", 3).attr("x2", right)
    .attr("y1", d => pad(yPrice(d))).attr("y2", d => pad(yPrice(d)))
    .attr("stroke", "#000").attr("stroke-width", 1)
    .attr("stroke-dasharray", "12 4 3 5").attr("shape-rendering", "crispEdges");

// small corner marks at the ends of the outer levels
[levels[0], levels[levels.length - 1]].forEach(l => {
    const y = pad(yPrice(l));
    svg.append("path").attr("d", `M3.5,${y + 3}V${y - 2}H9`).attr("fill", "none").attr("stroke", "#000").attr("shape-rendering", "crispEdges");
    svg.append("path").attr("d", `M${right - 6},${y - 2}H${right - 1}V${y + 3}`).attr("fill", "none").attr("stroke", "#000").attr("shape-rendering", "crispEdges");
});

// hand drawn analysis
const smooth = d3.line().x(d => xBar(d[0])).y(d => yPrice(d[1])).curve(d3.curveCatmullRom.alpha(0.5));
main.append("path").attr("d", priceLine(trendLine)).attr("stroke", cyan).attr("stroke-width", 2.2).attr("fill", "none");
main.append("path").attr("d", smooth(upCurve)).attr("stroke", cyan).attr("stroke-width", 2.2).attr("fill", "none");
main.append("path").attr("d", smooth(downCurve)).attr("stroke", greyBlue).attr("stroke-width", 2.2).attr("fill", "none");
const tri = d3.line().x(d => xBar(d[0])).y(d => yPrice(d[1]));
main.append("path").attr("d", tri(upHead) + "Z").attr("fill", cyan);
main.append("path").attr("d", tri(downHead) + "Z").attr("fill", greyBlue);

// level captions and EMA names
const captions = [
    ["~1.7413", cyan, 1800, 87], ["~1.7385", cyan, 1802, 107], ["~1.7350", cyan, 1801, 133],
    ["~1.7275", cyan, 1804, 188], ["~1.7215", cyan, 1805, 225], ["~1.7138", greyBlue, 1806, 285],
    ["~1.7070", greyBlue, 1806, 337], ["~1.7010", greyBlue, 1809, 380], ["~1.6955", greyBlue, 1810, 418]
];
svg.append("g").selectAll("text").data(captions).join("text")
    .attr("x", d => d[2]).attr("y", d => d[3]).attr("dy", "0.35em")
    .attr("fill", d => d[1]).attr("font-size", 15.5).attr("font-weight", "bold")
    .style("font-family", "'Open Sans', sans-serif").text(d => d[0])
    .call(fitWidth, 52);
const emaNames = [
    ["21 EMA", "#ffd500", 1204, 305, 50], ["50 EMA", "#ff0000", 1238, 330, 50],
    ["100 EMA", "#00e64c", 1253, 366, 59], ["200 EMA", "#000000", 1231, 403, 58]
];
svg.append("g").selectAll("g").data(emaNames).join("text")
    .attr("x", d => d[2]).attr("y", d => d[3]).attr("dy", "0.35em")
    .attr("fill", d => d[1]).attr("font-size", 16).attr("font-weight", "bold")
    .style("font-family", "Lato, sans-serif").text(d => d[0])
    .attr("textLength", d => d[4]).attr("lengthAdjust", "spacingAndGlyphs");

// RSI pane
const rsiPane = svg.append("g").attr("clip-path", "url(#clipRsi)");
rsiPane.selectAll("line").data([80, 20]).join("line")
    .attr("x1", 3).attr("x2", right).attr("y1", d => pad(yRsi(d))).attr("y2", d => pad(yRsi(d)))
    .attr("stroke", "#c0c0c0").attr("stroke-dasharray", "3 3").attr("shape-rendering", "crispEdges");
rsiPane.append("path")
    .attr("d", d3.line().x(d => xBar(d[0]) + 0.5).y(d => yRsi(d[1]))(rsiPoints))
    .attr("fill", "none").attr("stroke", cyan).attr("stroke-width", 1);

// MACD pane
const macdPane = svg.append("g").attr("clip-path", "url(#clipMacd)");
macdPane.selectAll("line").data(macdHist).join("line")
    .attr("x1", (d, i) => pad(xBar(i))).attr("x2", (d, i) => pad(xBar(i)))
    .attr("y1", yMacd(0)).attr("y2", d => yMacd(d))
    .attr("stroke", cyan).attr("stroke-width", 1).attr("shape-rendering", "crispEdges");
macdPane.append("path")
    .attr("d", d3.line().x(d => xBar(d[0]) + 0.5).y(d => yMacd(d[1]))(macdSignal))
    .attr("fill", "none").attr("stroke", "#000").attr("stroke-width", 1.1);

// pane frames
[[3, 669.5], [671.5, 796.5], [798.5, 915.5]].forEach(p => {
    svg.append("rect").attr("x", 2.5).attr("y", p[0] - (p[0] === 3 ? 0.5 : 0)).attr("width", right - 2.5)
        .attr("height", p[1] - p[0] + (p[0] === 3 ? 0.5 : 0))
        .attr("fill", "none").attr("stroke", frameColor).attr("shape-rendering", "crispEdges");
});

// axes
function styleAxis(g, k) {
    g.select(".domain").remove();
    g.selectAll("line").attr("stroke", frameColor).attr("shape-rendering", "crispEdges");
    g.selectAll("text").attr("fill", labelColor).attr("font-size", 10.5)
        .style("font-family", "'Liberation Sans', sans-serif").call(squeeze, k);
}
svg.append("g").attr("transform", `translate(${right},0)`)
    .call(d3.axisRight(yPrice).tickValues(priceTicks).tickSize(4).tickPadding(1.5).tickFormat(d => (d / 10000).toFixed(5)))
    .call(styleAxis, 0.88);
svg.append("g").attr("transform", `translate(${right},0)`)
    .call(d3.axisRight(yRsi).tickValues([80, 20]).tickSize(4).tickPadding(0))
    .call(styleAxis, 0.88);
svg.append("g").attr("transform", `translate(${right},0)`)
    .call(d3.axisRight(yMacd).tickValues([9.176, 0, -8.234]).tickSize(4).tickPadding(-1)
        .tickFormat(d => d === 0 ? "0.00" : (d / 1000).toFixed(6)))
    .call(styleAxis, 0.82);
// 100 and 0 sit inside the pane on the original
[[100, 6], [0, -7]].forEach(t => {
    svg.append("text").attr("x", right + 3).attr("y", yRsi(t[0]) + t[1]).attr("dy", "0.35em")
        .attr("fill", labelColor).attr("font-size", 10.5).text(t[0]).call(squeeze, 0.88);
});

const timeAxis = svg.append("g").attr("transform", "translate(0.5,915)")
    .call(d3.axisBottom(xBar).tickValues(timeLabels.map((d, i) => i * 16)).tickSize(4).tickPadding(2)
        .tickFormat((d, i) => timeLabels[i]))
    .call(styleAxis, 0.88);
timeAxis.selectAll("text").attr("text-anchor", "start").attr("x", -0.5);

// price tags on the axis
const tags = svg.append("g").selectAll("g").data(levels).join("g");
tags.append("rect").attr("x", right + 1).attr("width", width - right - 1)
    .attr("y", d => yPrice(d) - 6).attr("height", 11).attr("fill", "#000");
tags.append("text").attr("x", right + 5).attr("y", d => yPrice(d) - 0.5).attr("dy", "0.35em")
    .attr("fill", "#fff").attr("font-size", 10.5).text(d => (d / 10000).toFixed(5)).call(squeeze, 0.88);
svg.append("rect").attr("x", right + 1).attr("width", width - right - 1)
    .attr("y", yPrice(lastPrice) - 6).attr("height", 11).attr("fill", "#404040");
svg.append("text").attr("x", right + 5).attr("y", yPrice(lastPrice) - 0.5).attr("dy", "0.35em")
    .attr("fill", "#fff").attr("font-size", 10.5).text("1.72326").call(squeeze, 0.88);

// pane titles
svg.append("path").attr("d", "M6,9H13L9.5,13Z").attr("fill", labelColor);
svg.append("text").attr("x", 18).attr("y", 11).attr("dy", "0.35em").attr("fill", labelColor).attr("font-size", 10.5)
    .text("GBPCAD,H4 1.72233 1.72393 1.72233 1.72326").call(fitWidth, 202);
svg.append("text").attr("x", 7).attr("y", 681).attr("dy", "0.35em").attr("fill", labelColor).attr("font-size", 10.5)
    .text("RSI(14) 68.3455").call(fitWidth, 67);
svg.append("text").attr("x", 7).attr("y", 808).attr("dy", "0.35em").attr("fill", labelColor).attr("font-size", 10.5)
    .text("MACD(12,26,9) 0.005515 0.003455").call(fitWidth, 148);

// logo
const logo = svg.append("g");
logo.append("text").attr("x", 12).attr("y", 58).attr("font-size", 49).attr("font-weight", "bold")
    .attr("fill", "#333f49").text("JFD").call(fitWidth, 73);
logo.append("rect").attr("x", 96).attr("y", 24).attr("width", 1).attr("height", 34).attr("fill", "#8a929a");
logo.append("rect").attr("x", 95).attr("y", 35).attr("width", 3).attr("height", 11).attr("fill", "#46515b");
logo.append("text").attr("x", 107).attr("y", 46).attr("font-size", 31).attr("fill", "#46515b")
    .style("font-family", "'Liberation Serif', serif").text("BROKERS").call(fitWidth, 134);
logo.append("text").attr("x", 107).attr("y", 59).attr("font-size", 10.5).attr("fill", "#5a646d")
    .style("font-family", "'Liberation Serif', serif").text("JUST FAIR & DIRECT").call(fitWidth, 134);
</script>
</body>
</html>
